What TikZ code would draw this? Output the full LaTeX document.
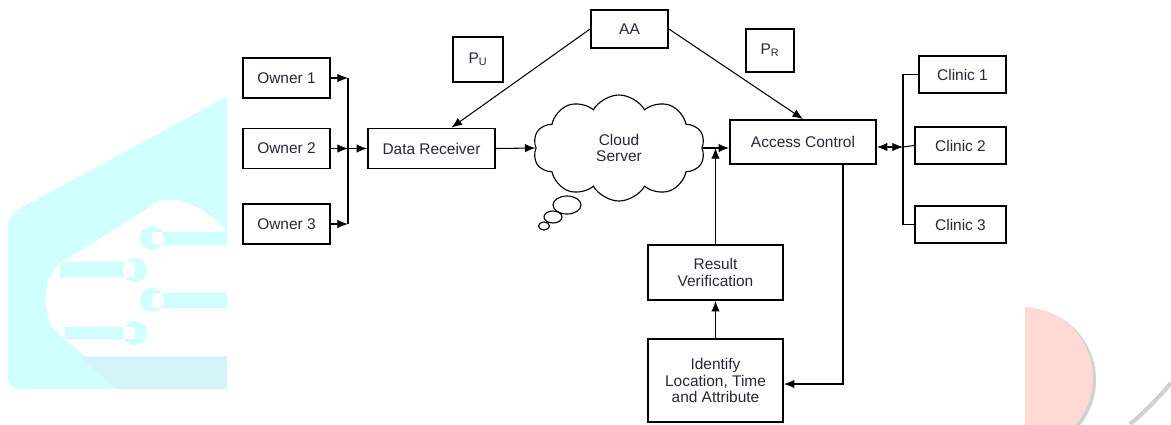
\documentclass[tikz,border=0pt]{standalone}
\usepackage{fontspec}
\setmainfont{Liberation Sans}
\usetikzlibrary{arrows.meta,shapes.symbols,calc}
\definecolor{wmcyan}{RGB}{207,255,255}
\definecolor{wmblue}{RGB}{212,244,250}
\definecolor{wmpink}{RGB}{255,217,212}
\definecolor{txtgray}{RGB}{40,40,56}
\newdimen\px \px=0.025cm

\begin{document}
\begin{tikzpicture}[x=0.025cm,y=-0.025cm,>={Latex[length=7.5pt,width=6pt]},
    box/.style={draw,line width=1.3pt,text=txtgray,font=\fontsize{11}{12}\selectfont,align=center,inner sep=0pt},
    ownbox/.style={box,minimum width=87\px,minimum height=40\px},
    clinbox/.style={box,minimum width=91\px,minimum height=37\px},
    link/.style={line width=0.75pt}]
    \useasboundingbox (0,0) rectangle (1171,424);
    % faded logo behind the figure
    \fill[wmcyan,rounded corners=8] (8,389) -- (8,215) -- (245,87) -- (245,389) -- cycle;
    \fill[wmblue] (80,357) -- (240,357) -- (240,389) -- (117,389) -- cycle;
    \fill[white] (227,232) .. controls (205,205) and (180,198) .. (160,200) -- (95,242) -- (60,262) -- (48,280) -- (45,300) -- (50,325) -- (65,340) -- (85,356) -- (227,356) -- cycle;
    \fill[wmcyan] (152,232) rectangle (227,245) (152,238) circle[radius=12];
    \fill[wmcyan] (60,262) rectangle (135,277) (135,270) circle[radius=12];
    \fill[wmcyan] (152,293) rectangle (227,308) (152,300) circle[radius=12];
    \fill[wmcyan] (65,327) rectangle (135,339) (135,333) circle[radius=12];
    \begin{scope}
        \clip (1025,300) rectangle (1171,424);
        \fill[black!18] (1024,380) circle[radius=72];
        \fill[wmpink] (1022,378) circle[radius=71];
        \draw[black!18,line width=3pt] (1171,383) .. controls (1158,398) and (1145,412) .. (1130,424);
    \end{scope}
    \fill[white] (227,0) rectangle (1025,424);

    \node[ownbox] (own1) at (286.5,78) {Owner 1};
    \node[ownbox] (own2) at (286.5,148.5) {Owner 2};
    \node[ownbox] (own3) at (286.5,224) {Owner 3};
    \node[box,minimum width=127\px,minimum height=40\px] (dr) at (431.5,148.5) {Data Receiver};
    \node[box,minimum width=77\px,minimum height=38\px] (aa) at (629.5,29) {AA};
    \node[box,minimum width=50\px,minimum height=45\px] (pu) at (478,59.5) {P\textsubscript{U}};
    \node[box,minimum width=48\px,minimum height=43\px] (pr) at (770,50.5) {P\textsubscript{R}};
    \node[draw,line width=0.8pt,cloud,cloud puffs=10,cloud puff arc=120,aspect=1.6,minimum width=172\px,minimum height=106\px,inner sep=0pt,
        text=txtgray,font=\fontsize{11}{12}\selectfont,align=center] (cloud) at (619,148) {Cloud\\Server};
    \draw[line width=0.8pt,fill=white] (567,205) ellipse[x radius=14,y radius=9];
    \draw[line width=0.8pt,fill=white] (553,217) ellipse[x radius=9,y radius=6];
    \draw[line width=0.8pt,fill=white] (544,226) ellipse[x radius=5.5,y radius=4];
    \node[box,minimum width=146\px,minimum height=44\px] (acc) at (803,142) {Access Control};
    \node[box,minimum width=87\px,minimum height=37\px] (cl1) at (962.5,74.5) {Clinic 1};
    \node[clinbox] (cl2) at (960.5,145.5) {Clinic 2};
    \node[clinbox] (cl3) at (960.5,224.5) {Clinic 3};
    \node[box,minimum width=135\px,minimum height=55\px] (res) at (715.5,272.5) {Result\\Verification};
    \node[box,minimum width=135\px,minimum height=83\px] (idf) at (715.5,380.5) {Identify\\Location, Time\\and Attribute};

    \coordinate (lbus1) at (348,78);
    \coordinate (lbus3) at (348,224);
    \coordinate (rbus) at (903,147);
    \draw[link] (lbus1) -- (lbus3);
    \draw[link,->] (own1.east) -- (lbus1);
    \draw[link,->] (own2.east) -- (own2.east -| lbus1);
    \draw[link,->] (own3.east) -- (lbus3);
    \draw[link,->] (own2.east -| lbus1) -- (dr.west);
    \draw[link,->] (aa.west) -- ($(dr.north)+(20,0)$);
    \draw[link,->] (aa.east) -- (acc.north);
    \draw[link,->] (dr.east) -- (cloud.west);
    \draw[link,->] (cloud.east) -- (cloud.east -| acc.west);
    \draw[link,->] (res.north) -- (res.north |- cloud.east);
    \draw[link,->] (idf.north) -- (res.south);
    \draw[link,->] ($(acc.south)+(40,0)$) |- ($(idf.east)+(0,3.5)$);
    \draw[link,<->] (acc.east |- rbus) -- (rbus);
    \draw[link] (cl1.west) -- (cl1.west -| rbus) -- (cl3.west -| rbus) -- (cl3.west);
    \draw[link] (rbus) -- (cl2.west);
\end{tikzpicture}
\end{document}
